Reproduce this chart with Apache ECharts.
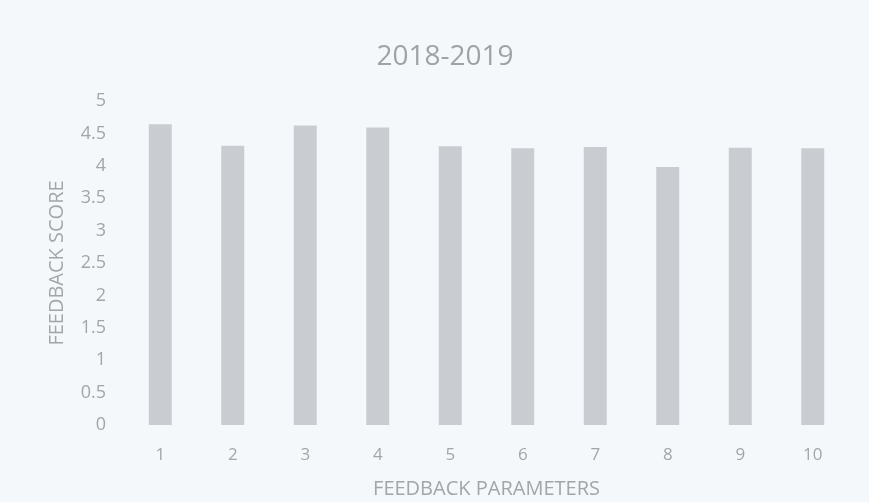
<!DOCTYPE html>
<html>
<head>
<meta charset="utf-8">
<script src="https://cdn.jsdelivr.net/npm/echarts@6/dist/echarts.min.js"></script>
<style>
html,body{margin:0;padding:0;background:#f5f8fb;}
#chart{width:869px;height:502px;}
</style>
</head>
<body>
<div id="chart"></div>
<script>
const categories = ['1','2','3','4','5','6','7','8','9','10'];
const scores = [4.64, 4.31, 4.62, 4.59, 4.30, 4.27, 4.29, 3.98, 4.28, 4.27];
const titleText = '2018-2019';
const xName = 'FEEDBACK PARAMETERS';
const yName = 'FEEDBACK SCORE';

const font = 'Open Sans';
const textColor = '#a3a6a9';
const chart = echarts.init(document.getElementById('chart'), null, {renderer:'canvas'});
chart.setOption({
  backgroundColor: '#f5f8fb',
  animation: false,
  title: {
    text: titleText, left: 440, textAlign: 'center', top: 38,
    textStyle: {fontFamily: font, fontSize: 28, fontWeight: 'normal', color: '#a0a3a6'}
  },
  grid: {left: 124, right: 20, top: 101, bottom: 77, outerBoundsMode: 'none', containLabel: false},
  xAxis: {
    type: 'category', data: categories,
    name: xName, nameLocation: 'middle', nameGap: 54,
    nameTextStyle: {fontFamily: font, fontSize: 20, color: textColor},
    axisLine: {show: false}, axisTick: {show: false},
    axisLabel: {fontFamily: font, fontSize: 17, color: textColor, margin: 22}
  },
  yAxis: {
    type: 'value', min: 0, max: 5, interval: 0.5,
    name: yName, nameLocation: 'middle', nameGap: 57,
    nameTextStyle: {fontFamily: font, fontSize: 20, color: textColor},
    axisLine: {show: false}, axisTick: {show: false},
    splitLine: {show: false},
    axisLabel: {fontFamily: font, fontSize: 18, color: textColor, margin: 18}
  },
  series: [{
    type: 'bar', data: scores, barWidth: 23,
    itemStyle: {color: '#c9cdd1'}
  }]
});
</script>
</body>
</html>
